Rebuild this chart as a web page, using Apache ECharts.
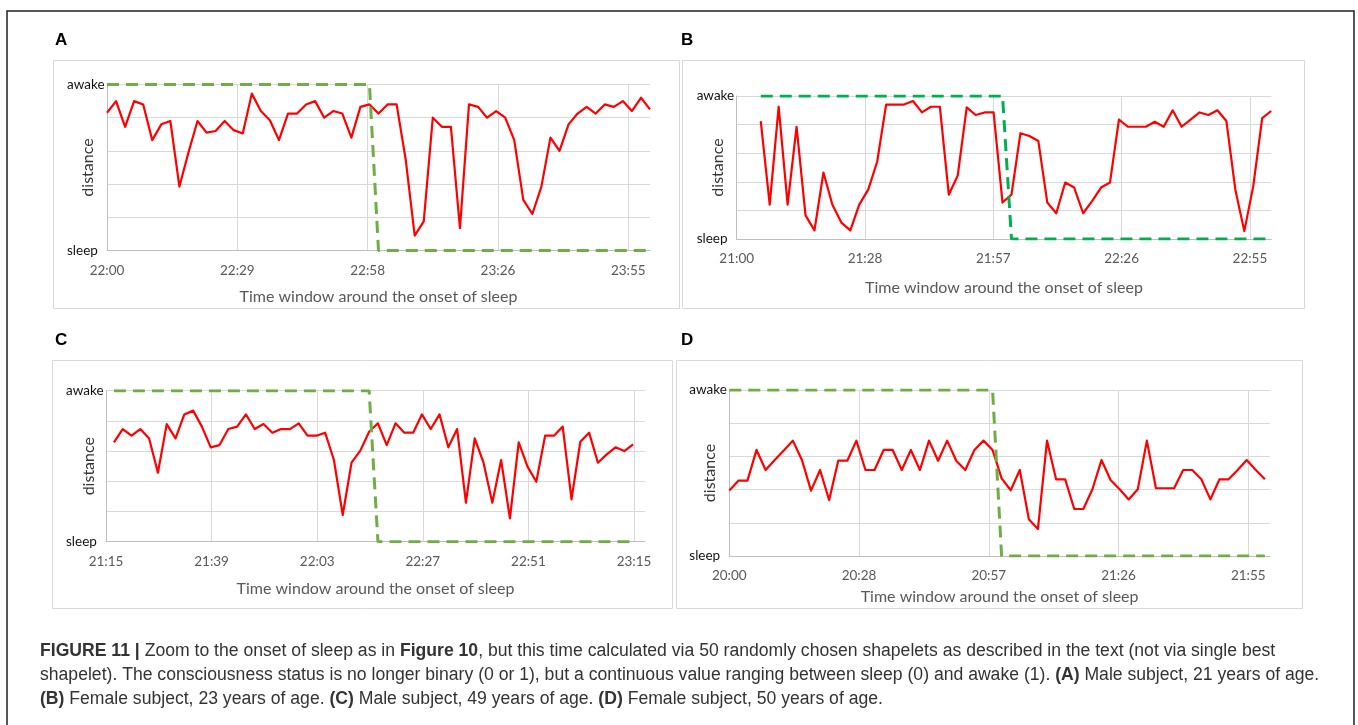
<!DOCTYPE html>
<html>
<head>
<meta charset="utf-8">
<title>Figure 11</title>
<script src="https://cdn.jsdelivr.net/npm/echarts@6/dist/echarts.min.js"></script>
<style>
html, body { margin: 0; padding: 0; background: #fff; }
#chartmain { width: 1358px; height: 725px; }
</style>
</head>
<body>
<div id="chartmain"></div>
<script>
// panel A : male, 21 years (samples every 2 min from 22:00)
var ticksA = ['22:00', '22:29', '22:58', '23:26', '23:55'];
var distA = [0.83, 0.90, 0.745, 0.90, 0.88, 0.665, 0.76, 0.78, 0.385, 0.59,
	0.78, 0.71, 0.72, 0.78, 0.725, 0.705, 0.945, 0.84, 0.785, 0.665,
	0.825, 0.825, 0.88, 0.90, 0.80, 0.84, 0.825, 0.68, 0.865, 0.88,
	0.825, 0.88, 0.88, 0.55, 0.09, 0.175, 0.80, 0.745, 0.745, 0.135,
	0.88, 0.865, 0.80, 0.84, 0.80, 0.665, 0.305, 0.22, 0.385, 0.68,
	0.60, 0.76, 0.825, 0.865, 0.825, 0.88, 0.865, 0.90, 0.84, 0.92, 0.85];
var statusA = [1, 1, 1, 1, 1, 1, 1, 1, 1, 1, 1, 1, 1, 1, 1, 1, 1, 1, 1, 1,
	1, 1, 1, 1, 1, 1, 1, 1, 1, 1, 0, 0, 0, 0, 0, 0, 0, 0, 0, 0,
	0, 0, 0, 0, 0, 0, 0, 0, 0, 0, 0, 0, 0, 0, 0, 0, 0, 0, 0, 0, 0];

// panel B : female, 23 years
var ticksB = ['21:00', '21:28', '21:57', '22:26', '22:55'];
var distB = [0.825, 0.24, 0.925, 0.24, 0.785, 0.165, 0.06, 0.465, 0.24, 0.115,
	0.06, 0.24, 0.345, 0.54, 0.94, 0.94, 0.94, 0.965, 0.885, 0.925,
	0.925, 0.31, 0.445, 0.92, 0.867, 0.885, 0.885, 0.255, 0.31, 0.74,
	0.72, 0.685, 0.255, 0.18, 0.395, 0.36, 0.18, 0.265, 0.36, 0.395,
	0.835, 0.785, 0.785, 0.785, 0.82, 0.785, 0.90, 0.785, 0.835, 0.885,
	0.867, 0.90, 0.825, 0.345, 0.055, 0.37, 0.845, 0.895];
var statusB = [1, 1, 1, 1, 1, 1, 1, 1, 1, 1, 1, 1, 1, 1, 1, 1, 1, 1, 1, 1,
	1, 1, 1, 1, 1, 1, 1, 1, 0, 0, 0, 0, 0, 0, 0, 0, 0, 0, 0, 0,
	0, 0, 0, 0, 0, 0, 0, 0, 0, 0, 0, 0, 0, 0, 0, 0, 0, 0];

// panel C : male, 49 years
var ticksC = ['21:15', '21:39', '22:03', '22:27', '22:51', '23:15'];
var distC = [0.658, 0.746, 0.702, 0.746, 0.684, 0.457, 0.779, 0.684, 0.843, 0.868,
	0.762, 0.625, 0.64, 0.746, 0.762, 0.843, 0.746, 0.779, 0.722, 0.746,
	0.746, 0.784, 0.702, 0.702, 0.722, 0.541, 0.177, 0.523, 0.603, 0.728,
	0.784, 0.64, 0.784, 0.722, 0.722, 0.843, 0.746, 0.843, 0.625, 0.746,
	0.258, 0.684, 0.523, 0.258, 0.541, 0.155, 0.658, 0.497, 0.397, 0.702,
	0.702, 0.762, 0.28, 0.662, 0.722, 0.523, 0.578, 0.625, 0.60, 0.645];
var statusC = [1, 1, 1, 1, 1, 1, 1, 1, 1, 1, 1, 1, 1, 1, 1, 1, 1, 1, 1, 1,
	1, 1, 1, 1, 1, 1, 1, 1, 1, 1, 0, 0, 0, 0, 0, 0, 0, 0, 0, 0,
	0, 0, 0, 0, 0, 0, 0, 0, 0, 0, 0, 0, 0, 0, 0, 0, 0, 0, 0, 0];

// panel D : female, 50 years
var ticksD = ['20:00', '20:28', '20:57', '21:26', '21:55'];
var distD = [0.394, 0.454, 0.454, 0.639, 0.518, 0.578, 0.635, 0.695, 0.578, 0.394,
	0.518, 0.337, 0.574, 0.574, 0.695, 0.518, 0.518, 0.639, 0.639, 0.518,
	0.639, 0.518, 0.695, 0.574, 0.695, 0.574, 0.518, 0.639, 0.695, 0.639,
	0.468, 0.396, 0.518, 0.221, 0.163, 0.695, 0.462, 0.462, 0.283, 0.283,
	0.402, 0.578, 0.458, 0.402, 0.341, 0.402, 0.695, 0.408, 0.408, 0.408,
	0.518, 0.518, 0.462, 0.341, 0.462, 0.462, 0.518, 0.578, 0.518, 0.462];
var statusD = [1, 1, 1, 1, 1, 1, 1, 1, 1, 1, 1, 1, 1, 1, 1, 1, 1, 1, 1, 1,
	1, 1, 1, 1, 1, 1, 1, 1, 1, 1, 0, 0, 0, 0, 0, 0, 0, 0, 0, 0,
	0, 0, 0, 0, 0, 0, 0, 0, 0, 0, 0, 0, 0, 0, 0, 0, 0, 0, 0, 0];

var FONT = 'Lato, "Open Sans", sans-serif';
var CAPFONT = '"Liberation Sans", Arial, sans-serif';
var CAPSIZE = 17.6;

var grids = [], xAxes = [], yAxes = [], series = [];

function addPanel(p) {
	var i = grids.length;
	grids.push({ left: p.left, top: p.top, width: p.width, height: p.height, outerBoundsMode: 'none' });
	xAxes.push({
		type: 'value', gridIndex: i, min: 0, max: p.xMax, interval: p.tickStep,
		axisLine: { show: true, onZero: false, lineStyle: { color: '#bfbfbf', width: 1 } },
		axisTick: { show: false },
		axisLabel: {
			margin: 13, fontFamily: FONT, fontSize: 13.5, color: '#595959',
			formatter: function (v) {
				var k = v / p.tickStep, r = Math.round(k);
				return Math.abs(k - r) < 1e-6 ? (p.ticks[r] || '') : '';
			}
		},
		splitLine: { show: true, showMinLine: false, showMaxLine: false, lineStyle: { color: '#d9d9d9', width: 1 } },
		name: 'Time window around the onset of sleep',
		nameLocation: 'middle', nameGap: p.xNameGap, nameMoveOverlap: false,
		nameTextStyle: { fontFamily: FONT, fontSize: 16, color: '#595959', verticalAlign: 'middle' }
	});
	yAxes.push({
		type: 'value', gridIndex: i, min: 0, max: 1, interval: 0.2,
		axisLine: { show: true, lineStyle: { color: '#bfbfbf', width: 1 } },
		axisTick: { show: false },
		axisLabel: {
			align: 'left', margin: 40, fontFamily: FONT, fontSize: 13.5, color: '#111',
			formatter: function (v) {
				if (Math.abs(v - 1) < 1e-6) return 'awake';
				if (Math.abs(v) < 1e-6) return 'sleep';
				return '';
			}
		},
		splitLine: { show: true, lineStyle: { color: '#d9d9d9', width: 1 } },
		name: 'distance', nameLocation: 'middle', nameRotate: 90, nameGap: p.yNameGap, nameMoveOverlap: false,
		nameTextStyle: { fontFamily: FONT, fontSize: 16, color: '#333', verticalAlign: 'middle', align: 'center' }
	});
	series.push({
		type: 'line', xAxisIndex: i, yAxisIndex: i, symbol: 'none', z: 3,
		data: p.dist.map(function (v, k) { return [p.start + k * p.step, v]; }),
		lineStyle: { color: '#ff0000', width: 2.2, join: 'round' }
	});
	series.push({
		type: 'line', xAxisIndex: i, yAxisIndex: i, symbol: 'none', z: 4,
		data: p.status.map(function (v, k) { return [p.start + k * p.step, v]; }),
		lineStyle: { color: p.green, width: 3, type: [12, 7] }
	});
}

addPanel({ left: 107, top: 84.5, width: 543, height: 166, xMax: 120, tickStep: 28.8, ticks: ticksA,
	start: 0, step: 2, dist: distA, status: statusA, green: '#70ad47', xNameGap: 46, yNameGap: 19 });
addPanel({ left: 736.7, top: 96, width: 534.6, height: 143, xMax: 120, tickStep: 28.8, ticks: ticksB,
	start: 5.4, step: 2.01, dist: distB, status: statusB, green: '#00b050', xNameGap: 48.5, yNameGap: 18.5 });
addPanel({ left: 106, top: 390.7, width: 539, height: 151, xMax: 122.5, tickStep: 24, ticks: ticksC,
	start: 1.8, step: 2, dist: distC, status: statusC, green: '#70ad47', xNameGap: 47.5, yNameGap: 17 });
addPanel({ left: 729.3, top: 390, width: 540.6, height: 166, xMax: 120, tickStep: 28.8, ticks: ticksD,
	start: 0, step: 2.015, dist: distD, status: statusD, green: '#70ad47', xNameGap: 40.5, yNameGap: 19 });

function box(x, y, w, h) {
	return { type: 'rect', silent: true, z: -1, shape: { x: x, y: y, width: w, height: h },
		style: { fill: 'none', stroke: '#d9d9d9', lineWidth: 1 } };
}
function letter(t, x, y) {
	return { type: 'text', silent: true, x: x, y: y,
		style: { text: t, font: 'bold 17px ' + CAPFONT, fill: '#000', verticalAlign: 'middle' } };
}

var captionLines = [
	'{b|FIGURE 11 |} Zoom to the onset of sleep as in {b|Figure 10}, but this time calculated via 50 randomly chosen shapelets as described in the text (not via single best',
	'shapelet). The consciousness status is no longer binary (0 or 1), but a continuous value ranging between sleep (0) and awake (1). {b|(A)} Male subject, 21 years of age.',
	'{b|(B)} Female subject, 23 years of age. {b|(C)} Male subject, 49 years of age. {b|(D)} Female subject, 50 years of age.'
];
var capRich = {
	n: { fontFamily: CAPFONT, fontSize: CAPSIZE, color: '#333' },
	b: { fontFamily: CAPFONT, fontSize: CAPSIZE, fontWeight: 'bold', color: '#000' }
};

var graphics = [
	{ type: 'rect', silent: true, shape: { x: 7, y: 11, width: 1347, height: 730 },
		style: { fill: 'none', stroke: '#231f20', lineWidth: 1.5 } },
	box(53.5, 60.5, 626, 248), box(682.5, 60.5, 622, 248),
	box(52.5, 360.5, 620, 248), box(676.5, 360.5, 626, 248),
	letter('A', 55, 40), letter('B', 681, 40), letter('C', 55, 340), letter('D', 681, 340)
];
captionLines.forEach(function (line, k) {
	graphics.push({ type: 'text', silent: true, x: 40, y: 651 + k * 24,
		style: { text: '{n|' + line.replace(/\{b\|([^}]*)\}/g, '}{b|$1}{n|') + '}', rich: capRich,
			verticalAlign: 'middle', font: CAPSIZE + 'px ' + CAPFONT, fill: '#333' } });
});

var option = {
	backgroundColor: '#fff',
	animation: false,
	grid: grids,
	xAxis: xAxes,
	yAxis: yAxes,
	series: series,
	graphic: graphics
};
var myChart = echarts.init(document.getElementById('chartmain'));
myChart.setOption(option);
</script>
</body>
</html>
